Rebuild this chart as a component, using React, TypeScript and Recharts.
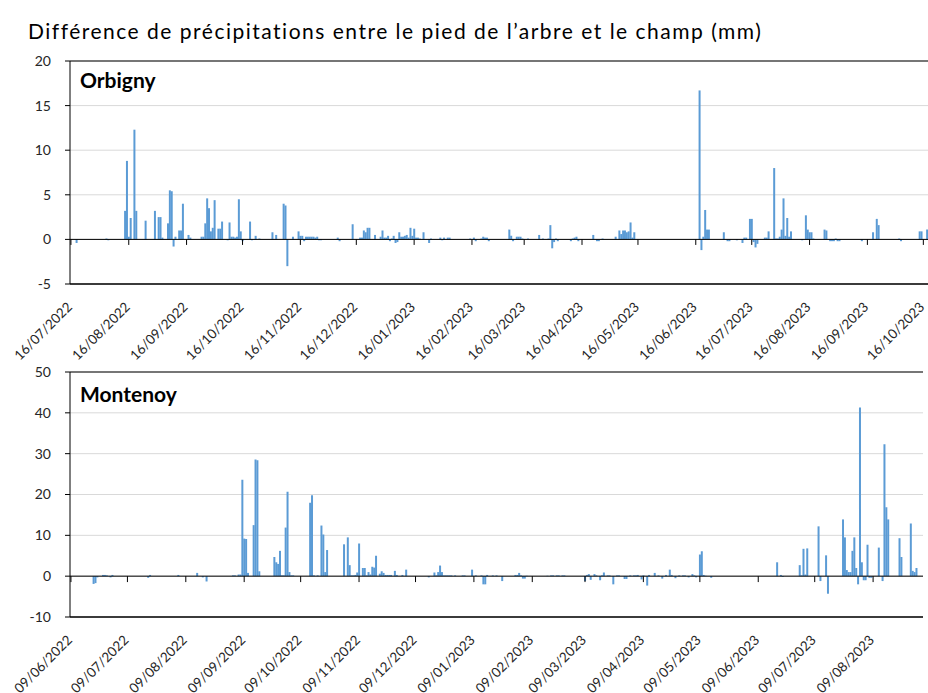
import React from 'react';
import { BarChart, Bar, XAxis, YAxis, CartesianGrid, ReferenceLine } from 'recharts';

const FONT = 'Lato, "Open Sans", sans-serif';
const BAR_COLOR = '#5B9BD5';
const TEXT_COLOR = '#262626';

// Orbigny : différence journalière (mm), jours sans valeur = pas de barre
const orbignyRange = ['16/07/2022', '18/10/2023'];
const orbignyTicks = [
  '16/07/2022', '16/08/2022', '16/09/2022', '16/10/2022', '16/11/2022', '16/12/2022',
  '16/01/2023', '16/02/2023', '16/03/2023', '16/04/2023', '16/05/2023', '16/06/2023',
  '16/07/2023', '16/08/2023', '16/09/2023', '16/10/2023',
];
const orbignyYTicks = [-5, 0, 5, 10, 15, 20];
const orbignyValues: [string, number][] = [
  ['19/07/2022', -0.4], ['04/08/2022', 0.1], ['05/08/2022', -0.1],
  ['14/08/2022', 3.2], ['15/08/2022', 8.8], ['16/08/2022', 0.3], ['17/08/2022', 2.4],
  ['19/08/2022', 12.3], ['20/08/2022', 3.2], ['25/08/2022', 2.1], ['30/08/2022', 3.2],
  ['01/09/2022', 2.5], ['02/09/2022', 2.5], ['03/09/2022', 0.2],
  ['06/09/2022', 1.8], ['07/09/2022', 5.5], ['08/09/2022', 5.4], ['09/09/2022', -0.8], ['10/09/2022', 0.3],
  ['12/09/2022', 1.0], ['13/09/2022', 1.0], ['14/09/2022', 4.0], ['17/09/2022', 0.5], ['18/09/2022', 0.2],
  ['24/09/2022', 0.3], ['25/09/2022', 0.3], ['26/09/2022', 1.8], ['27/09/2022', 4.6], ['28/09/2022', 3.5],
  ['29/09/2022', 0.9], ['30/09/2022', 1.3], ['01/10/2022', 4.4],
  ['03/10/2022', 1.2], ['04/10/2022', 1.2], ['05/10/2022', 2.0],
  ['08/10/2022', -0.1], ['09/10/2022', 1.9], ['10/10/2022', 0.3], ['11/10/2022', 0.3], ['12/10/2022', 0.2],
  ['13/10/2022', 0.3], ['14/10/2022', 4.5], ['15/10/2022', 0.9], ['16/10/2022', -0.2],
  ['20/10/2022', 2.0], ['21/10/2022', -0.1], ['23/10/2022', 0.4], ['25/10/2022', 0.1],
  ['01/11/2022', 0.8], ['03/11/2022', 0.5], ['07/11/2022', 4.0], ['08/11/2022', 3.8], ['09/11/2022', -3.0],
  ['12/11/2022', 0.3], ['15/11/2022', 0.9], ['16/11/2022', 0.4], ['17/11/2022', 0.4], ['18/11/2022', -0.2],
  ['19/11/2022', 0.3], ['20/11/2022', 0.3], ['21/11/2022', 0.3], ['22/11/2022', 0.3], ['23/11/2022', 0.3],
  ['24/11/2022', 0.2], ['25/11/2022', 0.3], ['26/11/2022', -0.1], ['27/11/2022', -0.1],
  ['06/12/2022', 0.2], ['07/12/2022', -0.2], ['14/12/2022', 1.7],
  ['18/12/2022', 0.2], ['19/12/2022', 0.2], ['20/12/2022', 1.0], ['21/12/2022', 0.8], ['22/12/2022', 1.3],
  ['23/12/2022', 1.3], ['26/12/2022', 0.5], ['29/12/2022', 0.3], ['30/12/2022', 1.0], ['31/12/2022', 0.2],
  ['01/01/2023', 0.2], ['02/01/2023', 0.4], ['03/01/2023', -0.2], ['04/01/2023', 0.1], ['05/01/2023', 0.4],
  ['06/01/2023', -0.4], ['07/01/2023', -0.3], ['08/01/2023', 0.8], ['09/01/2023', 0.3], ['10/01/2023', 0.3],
  ['11/01/2023', 0.4], ['12/01/2023', 0.5], ['13/01/2023', 0.2], ['14/01/2023', 1.3], ['15/01/2023', 0.4],
  ['16/01/2023', 1.2], ['17/01/2023', 0.2], ['18/01/2023', 0.2], ['19/01/2023', 0.1],
  ['21/01/2023', 0.8], ['24/01/2023', -0.4], ['25/01/2023', 0.1],
  ['30/01/2023', 0.2], ['31/01/2023', -0.1], ['01/02/2023', 0.2], ['03/02/2023', 0.2], ['04/02/2023', 0.2],
  ['15/02/2023', 0.1], ['17/02/2023', 0.2], ['18/02/2023', -0.2],
  ['21/02/2023', 0.1], ['22/02/2023', 0.3], ['23/02/2023', 0.2], ['24/02/2023', 0.2], ['25/02/2023', -0.2],
  ['08/03/2023', 1.1], ['09/03/2023', 0.4], ['10/03/2023', -0.2], ['12/03/2023', 0.3], ['13/03/2023', 0.3],
  ['14/03/2023', 0.3], ['15/03/2023', 0.1], ['18/03/2023', 0.1], ['24/03/2023', 0.5], ['26/03/2023', 0.1],
  ['29/03/2023', 0.1], ['30/03/2023', 1.6], ['31/03/2023', -1.0], ['01/04/2023', -0.3], ['02/04/2023', 0.1],
  ['03/04/2023', -0.2], ['10/04/2023', -0.2], ['11/04/2023', 0.1], ['12/04/2023', 0.2], ['13/04/2023', 0.3],
  ['14/04/2023', -0.2], ['22/04/2023', 0.5], ['24/04/2023', -0.2], ['25/04/2023', -0.2], ['27/04/2023', 0.1],
  ['04/05/2023', 0.3], ['06/05/2023', 1.0], ['07/05/2023', 0.6], ['08/05/2023', 1.0], ['09/05/2023', 1.0],
  ['10/05/2023', 0.8], ['11/05/2023', 0.9], ['12/05/2023', 1.9], ['13/05/2023', 0.2], ['14/05/2023', 0.8],
  ['18/06/2023', 16.7], ['19/06/2023', -1.2], ['20/06/2023', 0.3], ['21/06/2023', 3.3], ['22/06/2023', 1.1],
  ['23/06/2023', 1.1], ['01/07/2023', 0.8], ['03/07/2023', -0.2], ['04/07/2023', -0.2], ['08/07/2023', -0.1],
  ['11/07/2023', -0.4], ['12/07/2023', 0.2], ['13/07/2023', 0.2], ['15/07/2023', 2.3], ['16/07/2023', 2.3],
  ['17/07/2023', -0.3], ['18/07/2023', -0.9], ['19/07/2023', -0.5],
  ['23/07/2023', 0.2], ['24/07/2023', 0.2], ['25/07/2023', 0.9], ['28/07/2023', 8.0], ['29/07/2023', 0.1],
  ['30/07/2023', 0.1], ['31/07/2023', 0.3], ['01/08/2023', 1.1], ['02/08/2023', 4.6], ['03/08/2023', 0.4],
  ['04/08/2023', 2.4], ['05/08/2023', 0.3], ['06/08/2023', 0.9], ['12/08/2023', -0.1],
  ['14/08/2023', 2.7], ['15/08/2023', 1.1], ['16/08/2023', 0.8], ['17/08/2023', 0.8], ['18/08/2023', 0.1],
  ['24/08/2023', 1.1], ['25/08/2023', 1.0], ['27/08/2023', -0.2], ['28/08/2023', -0.2], ['29/08/2023', -0.2],
  ['30/08/2023', 0.1], ['31/08/2023', -0.2], ['01/09/2023', -0.2],
  ['13/09/2023', -0.2], ['19/09/2023', 0.8], ['21/09/2023', 2.3], ['22/09/2023', 1.6],
  ['03/10/2023', 0.1], ['04/10/2023', -0.2], ['14/10/2023', 0.9], ['15/10/2023', 0.9], ['18/10/2023', 1.1],
];

// Montenoy
const montenoyRange = ['09/06/2022', '04/09/2023'];
const montenoyTicks = [
  '09/06/2022', '09/07/2022', '09/08/2022', '09/09/2022', '09/10/2022', '09/11/2022',
  '09/12/2022', '09/01/2023', '09/02/2023', '09/03/2023', '09/04/2023', '09/05/2023',
  '09/06/2023', '09/07/2023', '09/08/2023',
];
const montenoyYTicks = [-10, 0, 10, 20, 30, 40, 50];
const montenoyValues: [string, number][] = [
  ['21/06/2022', -1.9], ['22/06/2022', -1.7], ['23/06/2022', -0.3], ['26/06/2022', 0.3], ['27/06/2022', 0.3],
  ['28/06/2022', 0.2], ['30/06/2022', -0.3], ['01/07/2022', 0.3], ['20/07/2022', -0.4], ['21/07/2022', 0.3],
  ['05/08/2022', 0.3], ['15/08/2022', 0.8], ['18/08/2022', -0.3], ['20/08/2022', -1.3],
  ['03/09/2022', 0.2], ['04/09/2022', 0.2], ['06/09/2022', 0.4], ['07/09/2022', 0.4],
  ['08/09/2022', 23.6], ['09/09/2022', 9.2], ['10/09/2022', 9.1], ['11/09/2022', 0.8],
  ['14/09/2022', 12.5], ['15/09/2022', 28.6], ['16/09/2022', 28.4], ['17/09/2022', 1.2],
  ['25/09/2022', 4.7], ['26/09/2022', 3.4], ['27/09/2022', 3.0], ['28/09/2022', 6.2], ['29/09/2022', 0.2],
  ['30/09/2022', 0.2], ['01/10/2022', 11.9], ['02/10/2022', 20.7], ['03/10/2022', 1.0], ['04/10/2022', 0.2],
  ['05/10/2022', 0.2], ['14/10/2022', 18.0], ['15/10/2022', 19.8], ['16/10/2022', 0.2], ['18/10/2022', 0.2],
  ['20/10/2022', 12.4], ['21/10/2022', 10.2], ['22/10/2022', 1.0], ['23/10/2022', 6.4],
  ['01/11/2022', 7.8], ['03/11/2022', 9.5], ['04/11/2022', 2.7], ['05/11/2022', 0.2], ['06/11/2022', 0.2],
  ['07/11/2022', 0.3], ['08/11/2022', 0.9], ['09/11/2022', 8.0], ['11/11/2022', 2.0], ['12/11/2022', 2.0],
  ['13/11/2022', 0.2], ['14/11/2022', 1.0], ['15/11/2022', 0.4], ['16/11/2022', 2.3], ['17/11/2022', 2.1],
  ['18/11/2022', 5.0], ['20/11/2022', 0.6], ['21/11/2022', 1.2], ['22/11/2022', 0.8], ['23/11/2022', 0.3],
  ['24/11/2022', 0.3], ['25/11/2022', 0.3], ['26/11/2022', 0.3], ['28/11/2022', 1.3], ['29/11/2022', 0.3],
  ['02/12/2022', 0.3], ['04/12/2022', 1.6], ['16/12/2022', -0.3], ['19/12/2022', 0.9], ['20/12/2022', 0.2],
  ['21/12/2022', 1.0], ['22/12/2022', 2.6], ['23/12/2022', 1.0], ['24/12/2022', 0.2], ['25/12/2022', 0.2],
  ['26/12/2022', 0.2], ['27/12/2022', 0.2], ['28/12/2022', 0.2], ['30/12/2022', 0.2],
  ['03/01/2023', 0.2], ['04/01/2023', 0.2], ['08/01/2023', 1.6], ['10/01/2023', 0.2], ['13/01/2023', 0.2],
  ['14/01/2023', -2.0], ['15/01/2023', -2.0], ['16/01/2023', 0.3], ['19/01/2023', 0.2], ['21/01/2023', 0.2],
  ['24/01/2023', -1.2], ['31/01/2023', 0.3], ['01/02/2023', 0.3], ['02/02/2023', 0.8], ['03/02/2023', 0.2],
  ['04/02/2023', -0.6], ['05/02/2023', -0.6], ['06/02/2023', 0.1], ['17/02/2023', 0.1], ['19/02/2023', 0.2],
  ['20/02/2023', 0.2], ['22/02/2023', 0.2], ['23/02/2023', 0.2], ['25/02/2023', 0.2], ['26/02/2023', 0.2],
  ['09/03/2023', -1.2], ['10/03/2023', 0.3], ['11/03/2023', 0.5], ['12/03/2023', -0.9], ['14/03/2023', 0.5],
  ['15/03/2023', 0.2], ['17/03/2023', -1.0], ['18/03/2023', 0.2], ['19/03/2023', 0.9], ['21/03/2023', 0.2],
  ['22/03/2023', 0.2], ['24/03/2023', -2.0], ['26/03/2023', 0.2], ['27/03/2023', 0.2], ['30/03/2023', -0.7],
  ['31/03/2023', -0.7], ['02/04/2023', 0.2], ['04/04/2023', 0.2], ['05/04/2023', 0.2], ['06/04/2023', 0.3],
  ['08/04/2023', -0.8], ['09/04/2023', 0.2], ['11/04/2023', -2.3], ['12/04/2023', 0.3], ['15/04/2023', 0.8],
  ['17/04/2023', 0.2], ['19/04/2023', -0.6], ['21/04/2023', 0.3], ['23/04/2023', 1.6], ['24/04/2023', 0.3],
  ['26/04/2023', -0.5], ['28/04/2023', 0.2], ['30/04/2023', 0.2], ['01/05/2023', 0.2], ['03/05/2023', -0.3],
  ['05/05/2023', 0.5], ['06/05/2023', 0.2], ['07/05/2023', -0.3], ['09/05/2023', 5.3], ['10/05/2023', 6.1],
  ['11/05/2023', 0.3], ['12/05/2023', 0.1], ['15/05/2023', -0.4],
  ['19/06/2023', 3.4], ['21/06/2023', 0.3], ['22/06/2023', -0.2],
  ['01/07/2023', 2.7], ['02/07/2023', 0.2], ['03/07/2023', 6.7], ['04/07/2023', 0.4], ['05/07/2023', 6.8],
  ['11/07/2023', 12.2], ['12/07/2023', -1.2], ['15/07/2023', 5.1], ['16/07/2023', -4.3],
  ['24/07/2023', 13.9], ['25/07/2023', 9.5], ['26/07/2023', 1.5], ['27/07/2023', 1.0], ['28/07/2023', 1.0],
  ['29/07/2023', 6.2], ['30/07/2023', 9.5], ['31/07/2023', 2.0], ['01/08/2023', -2.0], ['02/08/2023', 41.3],
  ['03/08/2023', 3.4], ['04/08/2023', -1.0], ['05/08/2023', -1.0], ['06/08/2023', 7.7], ['07/08/2023', -0.4],
  ['08/08/2023', -0.4], ['12/08/2023', 7.0], ['14/08/2023', -1.2], ['15/08/2023', 32.3], ['16/08/2023', 16.9],
  ['17/08/2023', 13.9], ['23/08/2023', 9.3], ['24/08/2023', 4.7], ['29/08/2023', 12.9], ['30/08/2023', 1.3],
  ['31/08/2023', 1.0], ['01/09/2023', 2.0],
];

const DAY = 86400000;
const parseDate = (s: string) => {
  const [d, m, y] = s.split('/').map(Number);
  return Date.UTC(y, m - 1, d);
};
const formatDate = (t: number) => {
  const dt = new Date(t);
  const dd = String(dt.getUTCDate()).padStart(2, '0');
  const mm = String(dt.getUTCMonth() + 1).padStart(2, '0');
  return `${dd}/${mm}/${dt.getUTCFullYear()}`;
};

// one row per day so the category axis is a true daily scale
function buildDaily(range: string[], values: [string, number][]) {
  const lookup = new Map(values);
  const rows: { date: string; value: number | null }[] = [];
  for (let t = parseDate(range[0]); t <= parseDate(range[1]); t += DAY) {
    const date = formatDate(t);
    rows.push({ date, value: lookup.has(date) ? (lookup.get(date) as number) : null });
  }
  return rows;
}

const orbignyData = buildDaily(orbignyRange, orbignyValues);
const montenoyData = buildDaily(montenoyRange, montenoyValues);

const DateTick = (props: any) => {
  const { x, y, payload } = props;
  const tx = x + 2;
  const ty = y + 22;
  return (
    <text
      x={tx}
      y={ty}
      textAnchor="end"
      transform={`rotate(-45, ${tx}, ${ty})`}
      fontSize={13.5}
      fontFamily={FONT}
      fill={TEXT_COLOR}
    >
      {payload.value}
    </text>
  );
};

interface PanelProps {
  data: { date: string; value: number | null }[];
  ticks: string[];
  yTicks: number[];
  tickLen: number;
  width: number;
  height: number;
  margin: { top: number; right: number; bottom: number; left: number };
  xAxisHeight: number;
  rightBorder?: boolean;
}

function Panel({ data, ticks, yTicks, tickLen, width, height, margin, xAxisHeight, rightBorder }: PanelProps) {
  const yMin = yTicks[0];
  const yMax = yTicks[yTicks.length - 1];
  return (
    <BarChart width={width} height={height} data={data} margin={margin} barCategoryGap={0} barGap={0}>
      <CartesianGrid vertical={false} stroke="#d9d9d9" />
      <XAxis
        dataKey="date"
        ticks={ticks}
        interval={0}
        tickSize={0}
        tickLine={false}
        axisLine={false}
        height={xAxisHeight}
        tick={<DateTick />}
      />
      <YAxis
        domain={[yMin, yMax]}
        ticks={yTicks}
        interval={0}
        width={40}
        tickSize={5}
        tickMargin={14}
        axisLine={{ stroke: '#000' }}
        tickLine={{ stroke: '#000' }}
        tick={{ fontSize: 14, fontFamily: FONT, fill: TEXT_COLOR }}
        allowDataOverflow
      />
      <Bar dataKey="value" fill={BAR_COLOR} isAnimationActive={false} />
      <ReferenceLine y={0} stroke="#000" strokeWidth={1} />
      <ReferenceLine y={yMax} stroke="#000" strokeWidth={1} />
      <ReferenceLine y={yMin} stroke="#000" strokeWidth={1.5} />
      {rightBorder && (
        <ReferenceLine x={data[data.length - 1].date} position="end" stroke="#000" strokeWidth={1} />
      )}
      {ticks.map((d) => (
        <ReferenceLine
          key={d}
          segment={[{ x: d, y: 0 }, { x: d, y: -tickLen }]}
          stroke="#000"
          strokeWidth={1}
        />
      ))}
    </BarChart>
  );
}

export default function App() {
  return (
    <div
      style={{
        position: 'absolute',
        left: 0,
        top: 0,
        width: 928,
        height: 693,
        overflow: 'hidden',
        background: '#fff',
        fontFamily: FONT,
      }}
    >
      <div
        style={{
          position: 'absolute',
          left: 28,
          top: 19,
          fontSize: 21,
          letterSpacing: 1.5,
          color: '#000',
          whiteSpace: 'nowrap',
          lineHeight: '24px',
        }}
      >
        Différence de précipitations entre le pied de l’arbre et le champ (mm)
      </div>
      <div style={{ position: 'absolute', left: 0, top: 0 }}>
        <Panel
          data={orbignyData}
          ticks={orbignyTicks}
          yTicks={orbignyYTicks}
          tickLen={0.62}
          width={928}
          height={370}
          margin={{ top: 61, right: 0, bottom: 0, left: 30 }}
          xAxisHeight={86}
        />
      </div>
      <div style={{ position: 'absolute', left: 0, top: 300 }}>
        <Panel
          data={montenoyData}
          ticks={montenoyTicks}
          yTicks={montenoyYTicks}
          tickLen={1.45}
          width={928}
          height={393}
          margin={{ top: 72, right: 5, bottom: 0, left: 30 }}
          xAxisHeight={76}
          rightBorder
        />
      </div>
      <div style={{ position: 'absolute', left: 80, top: 68, fontSize: 21, fontWeight: 700, color: '#000', lineHeight: '24px' }}>
        Orbigny
      </div>
      <div style={{ position: 'absolute', left: 80, top: 382, fontSize: 21, fontWeight: 700, color: '#000', lineHeight: '24px' }}>
        Montenoy
      </div>
    </div>
  );
}
